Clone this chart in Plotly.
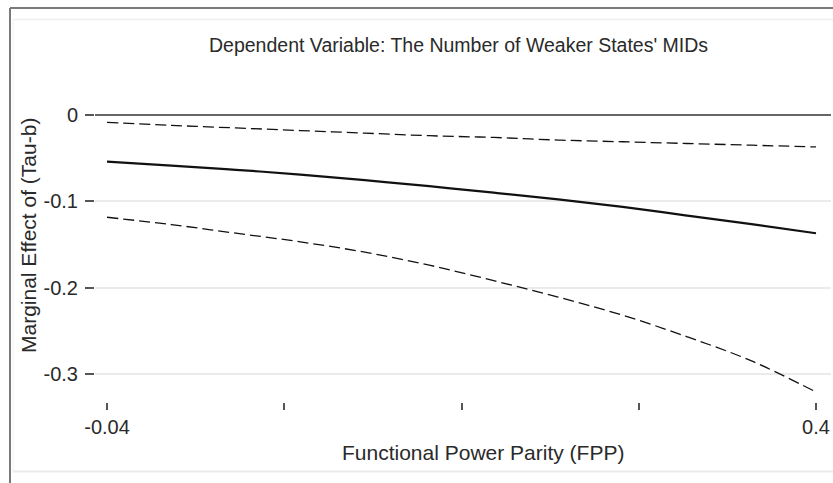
import plotly.graph_objects as go

# Data
fpp = [-0.04, 0.0, 0.04, 0.08, 0.12, 0.16, 0.20, 0.24, 0.28, 0.32, 0.36, 0.40]
effect = [-0.054, -0.0586, -0.0635, -0.069, -0.0755, -0.0825, -0.090, -0.0977, -0.1065, -0.1165, -0.1265, -0.137]
upper_ci = [-0.0085, -0.012, -0.015, -0.018, -0.021, -0.024, -0.026, -0.029, -0.031, -0.033, -0.035, -0.037]
lower_ci = [-0.1185, -0.127, -0.137, -0.147, -0.159, -0.174, -0.192, -0.211, -0.232, -0.257, -0.285, -0.321]

x_ticks = [-0.04, 0.07, 0.18, 0.29, 0.40]
x_ticklabels = ["-0.04", "", "", "", "0.4"]
y_ticks = [0, -0.1, -0.2, -0.3]
y_ticklabels = ["0", "-0.1", "-0.2", "-0.3"]

title_text = "Dependent Variable: The Number of Weaker States' MIDs"
x_title = "Functional Power Parity (FPP)"
y_title = "Marginal Effect of (Tau-b)"

W, H = 833, 483
L, R, T, B = 95, 2, 100, 81
pw, ph = W - L - R, H - T - B

def px(xp):
    return (xp - L) / pw

def py(yp):
    return (H - B - yp) / ph

FONT = "Liberation Sans, Arial, Helvetica, sans-serif"
TXT = "#2a2a2a"

fig = go.Figure()
fig.add_trace(go.Scatter(x=fpp, y=upper_ci, mode="lines",
                         line=dict(color="#111111", width=1.3, dash="11px,5px", shape="spline"),
                         hoverinfo="skip", showlegend=False))
fig.add_trace(go.Scatter(x=fpp, y=lower_ci, mode="lines",
                         line=dict(color="#111111", width=1.3, dash="11px,5px", shape="spline"),
                         hoverinfo="skip", showlegend=False))
fig.add_trace(go.Scatter(x=fpp, y=effect, mode="lines",
                         line=dict(color="#111111", width=2.2, shape="spline"),
                         showlegend=False))

shapes = [
    # outer frame (top and left)
    dict(type="line", xref="paper", yref="paper", x0=px(10), x1=px(833), y0=py(8), y1=py(8),
         line=dict(color="#7a7a7a", width=2), layer="above"),
    dict(type="line", xref="paper", yref="paper", x0=px(10), x1=px(10), y0=py(8), y1=py(483),
         line=dict(color="#7a7a7a", width=2), layer="above"),
    # inner light frame
    dict(type="line", xref="paper", yref="paper", x0=px(13), x1=px(833), y0=py(19.5), y1=py(19.5),
         line=dict(color="#efefef", width=1.5), layer="below"),
    dict(type="line", xref="paper", yref="paper", x0=px(13), x1=px(833), y0=py(471.5), y1=py(471.5),
         line=dict(color="#eaeaea", width=2), layer="below"),
    dict(type="line", xref="paper", yref="paper", x0=px(13), x1=px(13), y0=py(19.5), y1=py(471.5),
         line=dict(color="#f2f2f2", width=1), layer="below"),
]

annotations = [
    dict(text=y_title, xref="paper", yref="paper", x=px(28), y=py(236), textangle=-90,
         showarrow=False, font=dict(family=FONT, size=21, color=TXT), xanchor="center", yanchor="middle"),
    dict(text=x_title, xref="paper", yref="paper", x=px(483), y=py(452),
         showarrow=False, font=dict(family=FONT, size=21, color=TXT), xanchor="center", yanchor="middle"),
    dict(text=title_text, xref="paper", yref="paper", x=px(458), y=py(45),
         showarrow=False, font=dict(family=FONT, size=19.5, color=TXT), xanchor="center", yanchor="middle"),
]

fig.update_layout(
    width=W, height=H,
    margin=dict(l=L, r=R, t=T, b=B),
    paper_bgcolor="white", plot_bgcolor="white",
    font=dict(family=FONT, size=20, color=TXT),
    shapes=shapes, annotations=annotations,
    xaxis=dict(range=[-0.04 - 12 / 1609, 0.40 + 15 / 1609],
               tickvals=x_ticks, ticktext=x_ticklabels,
               ticks="outside", ticklen=7, tickwidth=1.5, tickcolor="#555555",
               showgrid=False, zeroline=False, showline=False,
               tickfont=dict(family=FONT, size=20, color=TXT)),
    yaxis=dict(range=[-0.3326, 0.0174],
               tickvals=y_ticks, ticktext=y_ticklabels,
               ticks="outside", ticklen=9, tickwidth=1.5, tickcolor="#555555",
               ticklabelstandoff=3,
               showgrid=True, gridcolor="#ebebeb", gridwidth=2,
               zeroline=True, zerolinecolor="#666666", zerolinewidth=2,
               showline=False,
               tickfont=dict(family=FONT, size=20, color=TXT)),
)

fig.write_html("out.html", config={"displayModeBar": False},
               post_script="document.body.style.margin='0';document.body.style.overflow='hidden';")
